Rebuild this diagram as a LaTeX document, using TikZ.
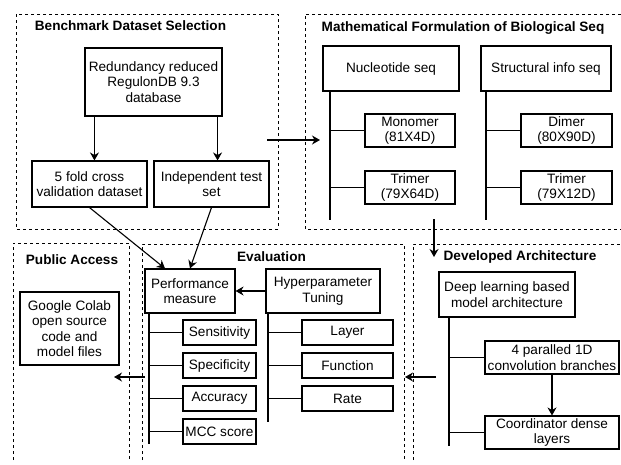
\documentclass[tikz,border=0pt]{standalone}
\usepackage{fontspec}
\setmainfont{Liberation Sans}
\usetikzlibrary{arrows.meta, positioning}

\begin{document}
\begin{tikzpicture}[x=1pt, y=-1pt,
        every node/.style={font=\fontsize{13.6}{15.5}\selectfont},
        blk/.style={draw, line width=1.1pt, align=center, inner sep=0pt},
        leaf/.style={blk, minimum height=25pt},
        frame/.style={line width=0.9pt, dash pattern=on 3pt off 3pt},
        ttl/.style={font=\fontsize{13.6}{15.5}\selectfont\bfseries},
        arr/.style={line width=1.1pt, -{Stealth[length=8pt, width=9pt]}},
        ln/.style={line width=1.1pt}]
            \useasboundingbox (0,0) rectangle (621,464);

            % dashed frames
            \draw[frame] (16,14) rectangle (278,229);
            \draw[frame] (621,14) -- (305,14) -- (305,229) -- (621,229);
            \draw[frame] (13,460) -- (13,243) -- (129,243) -- (129,460);
            \draw[frame] (142,460) -- (142,244) -- (404,244) -- (404,460);
            \draw[frame] (413,460) -- (413,244) -- (621,244);

            \node[ttl] (tbench) at (130.5,26) {Benchmark Dataset Selection};
            \node[ttl] (tmath) at (463,28) {Mathematical Formulation of Biological Seq};
            \node[ttl] (tpub) at (72,260) {Public Access};
            \node[ttl] (teval) at (271.5,257) {Evaluation};
            \node[ttl] (tdev) at (520,257) {Developed Architecture};

            % benchmark dataset
            \node[blk, minimum width=137pt, minimum height=68pt] (redund) at (153.5,82) {Redundancy reduced\\RegulonDB 9.3\\database};
            \node[blk, minimum width=115pt, minimum height=46pt] (cross) at (89.5,184) {5 fold cross\\validation dataset};
            \node[blk, minimum width=115pt, minimum height=46pt] (indep) at (211.5,184) {Independent test\\set};
            \draw[arr] ([xshift=10pt]redund.south west) -- ([xshift=10pt]redund.south west |- cross.north);
            \draw[arr] ([xshift=-5pt]redund.south east) -- ([xshift=-5pt]redund.south east |- indep.north);

            % sequence formulation
            \node[blk, minimum width=136pt, minimum height=45pt] (nucl) at (391,68.5) {Nucleotide seq};
            \node[blk, minimum width=130pt, minimum height=45pt] (struct) at (546,68.5) {Structural info seq};
            \node[blk, minimum width=90pt, minimum height=33pt] (mono) at (410,130.5) {Monomer\\(81X4D)};
            \node[blk, minimum width=90pt, minimum height=33pt] (trima) at (410,187.5) {Trimer\\(79X64D)};
            \node[blk, minimum width=91pt, minimum height=33pt] (dimer) at (566.5,130.5) {Dimer\\(80X90D)};
            \node[blk, minimum width=91pt, minimum height=33pt] (trimb) at (566.5,187.5) {Trimer\\(79X12D)};
            \coordinate (nuclend) at (330,220);
            \coordinate (structend) at (486,220);
            \draw[ln] (nucl.south -| nuclend) -- (nuclend);
            \draw[ln] (mono.west) -- (mono.west -| nuclend);
            \draw[ln] (trima.west) -- (trima.west -| nuclend);
            \draw[ln] (struct.south -| structend) -- (structend);
            \draw[ln] (dimer.west) -- (dimer.west -| structend);
            \draw[ln] (trimb.west) -- (trimb.west -| structend);

            % public access
            \node[blk, minimum width=99pt, minimum height=73pt] (colab) at (69.5,328.5) {Google Colab\\open source\\code and\\model files};

            % evaluation
            \node[blk, minimum width=90pt, minimum height=44pt] (perf) at (190,291) {Performance\\measure};
            \node[blk, minimum width=114pt, minimum height=44pt] (hyper) at (323,291) {Hyperparameter\\Tuning};
            \node[leaf, minimum width=73pt] (sens) at (219.5,332.5) {Sensitivity};
            \node[leaf, minimum width=73pt] (spec) at (219.5,365.5) {Specificity};
            \node[leaf, minimum width=73pt] (acc) at (219.5,398.5) {Accuracy};
            \node[leaf, minimum width=73pt] (mcc) at (219.5,431.5) {MCC score};
            \node[leaf, minimum width=91pt] (layer) at (347.5,332.5) {Layer};
            \node[leaf, minimum width=91pt] (func) at (347.5,365.5) {Function};
            \node[leaf, minimum width=91pt] (rate) at (347.5,398.5) {Rate};
            \coordinate (perfend) at (149,444);
            \coordinate (hyperend) at (268,422);
            \draw[ln] (perf.south -| perfend) -- (perfend);
            \foreach \n in {sens, spec, acc, mcc}
                \draw[ln] (\n.west) -- (\n.west -| perfend);
            \draw[ln] (hyper.south -| hyperend) -- (hyperend);
            \foreach \n in {layer, func, rate}
                \draw[ln] (\n.west) -- (\n.west -| hyperend);
            \draw[arr] (hyper.west) -- (perf.east);
            \draw[arr] (cross.south) -- ([xshift=-25pt]perf.north);
            \draw[arr] (indep.south) -- (perf.north);

            % developed architecture
            \node[blk, minimum width=136pt, minimum height=45pt] (deep) at (507,294.5) {Deep learning based\\model architecture};
            \node[blk, minimum width=134pt, minimum height=33pt] (conv) at (552,357.5) {4 paralled 1D\\convolution branches};
            \node[blk, minimum width=134pt, minimum height=33pt] (coord) at (552,432.5) {Coordinator dense\\layers};
            \coordinate (deepend) at (449,446);
            \draw[ln] (deep.south -| deepend) -- (deepend);
            \draw[ln] (conv.west) -- (conv.west -| deepend);
            \draw[ln] (coord.west) -- (coord.west -| deepend);
            \draw[arr] (conv.south) -- (coord.north);

            % flow between stages
            \coordinate (benchout) at (267,140);
            \coordinate (mathin) at (320,140);
            \coordinate (mathout) at (434,219);
            \coordinate (devin) at (434,257);
            \coordinate (devout) at (436,377);
            \coordinate (evalin) at (405,377);
            \coordinate (evalout) at (145,377);
            \coordinate (pubin) at (114,377);
            \draw[arr] (benchout) -- (mathin);
            \draw[arr] (mathout) -- (devin);
            \draw[arr] (devout) -- (evalin);
            \draw[arr] (evalout) -- (pubin);
        \end{tikzpicture}
\end{document}
